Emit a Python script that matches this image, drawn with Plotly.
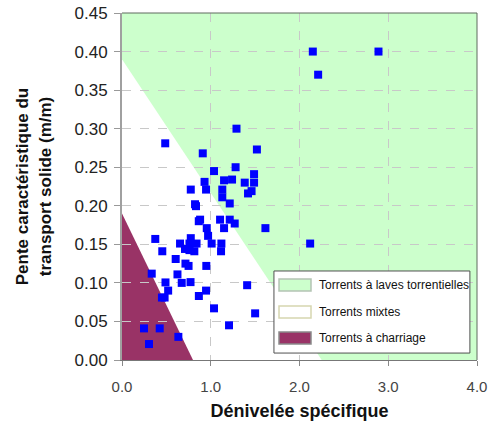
import plotly.graph_objects as go

# ---- data ----
denivelee = [2.15, 2.89, 2.21, 1.29, 0.487, 0.91, 1.52, 1.037, 1.28, 1.488,
             0.93, 1.15, 1.24, 1.383, 1.488, 0.775, 0.947, 1.13, 1.46, 1.42,
             1.13, 1.214, 0.823, 0.834, 0.88, 0.865, 1.105, 1.214, 1.27, 0.955,
             1.15, 1.616, 0.97, 0.375, 0.775, 0.654, 0.76, 0.84, 1.01, 1.12,
             2.12, 0.71, 0.76, 0.815, 0.454, 1.116, 0.605, 0.715, 0.75, 0.95,
             0.335, 0.625, 0.49, 0.673, 0.772, 0.52, 0.866, 0.947, 0.45, 0.48,
             1.037, 1.41, 1.50, 1.206, 0.248, 0.425, 0.635, 0.304]
pente = [0.400, 0.400, 0.370, 0.300, 0.281, 0.268, 0.273, 0.245, 0.250, 0.241,
         0.231, 0.233, 0.234, 0.230, 0.230, 0.221, 0.221, 0.221, 0.219, 0.216,
         0.211, 0.203, 0.202, 0.1995, 0.182, 0.180, 0.182, 0.182, 0.177, 0.171,
         0.171, 0.171, 0.161, 0.157, 0.158, 0.151, 0.151, 0.151, 0.151, 0.151,
         0.151, 0.144, 0.1425, 0.141, 0.141, 0.141, 0.131, 0.125, 0.122, 0.122,
         0.112, 0.111, 0.1006, 0.100, 0.101, 0.090, 0.083, 0.090, 0.081, 0.081,
         0.067, 0.097, 0.0605, 0.045, 0.041, 0.041, 0.030, 0.0207]

# region boundaries (data coordinates)
laves_x = [0, 0, 4, 4, 2.25]
laves_y = [0.39, 0.45, 0.45, 0, 0]
charriage_x = [0, 0, 0.8]
charriage_y = [0, 0.19, 0]

legend_labels = ["Torrents à laves torrentielles", "Torrents mixtes", "Torrents à charriage"]

x_tick_vals = [0, 1, 2, 3, 4]
x_tick_text = ["0.0", "1.0", "2.0", "3.0", "4.0"]
y_tick_vals = [0, 0.05, 0.10, 0.15, 0.20, 0.25, 0.30, 0.35, 0.40, 0.45]
y_tick_text = ["0.00", "0.05", "0.10", "0.15", "0.20", "0.25", "0.30", "0.35", "0.40", "0.45"]

GREEN = "#ccffcc"
PLUM = "#993366"
FONT = "Liberation Sans, Arial, sans-serif"


def poly_path(xs, ys):
    pts = " L ".join(f"{x},{y}" for x, y in zip(xs, ys))
    return "M " + pts + " Z"


fig = go.Figure()
fig.add_trace(go.Scatter(
    x=denivelee, y=pente, mode="markers", showlegend=False,
    marker=dict(symbol="square", size=8, color="#0000ff", line=dict(width=0)),
    hoverinfo="x+y",
))

shapes = [
    dict(type="path", path=poly_path(laves_x, laves_y), xref="x", yref="y",
         fillcolor=GREEN, line=dict(width=0), layer="below"),
    dict(type="path", path=poly_path(charriage_x, charriage_y), xref="x", yref="y",
         fillcolor=PLUM, line=dict(width=0), layer="below"),
    # top / right frame
    dict(type="line", xref="paper", yref="paper", x0=0, x1=1, y0=1, y1=1,
         line=dict(color="#5f6b5f", width=1), layer="above"),
    dict(type="line", xref="paper", yref="paper", x0=1, x1=1, y0=0, y1=1,
         line=dict(color="#5f6b5f", width=1), layer="above"),
    # legend box
    dict(type="rect", xref="paper", yref="paper", x0=0.428, x1=0.980, y0=0.020, y1=0.2565,
         fillcolor="white", line=dict(color="#505050", width=1), layer="above"),
]

swatch_fill = [GREEN, "white", PLUM]
swatch_line = ["#b4c4b4", "#d6d6b0", "#8a8a8a"]
row_y = [0.2161, 0.1383, 0.0634]
annotations = []
for lab, fc, lc, yc in zip(legend_labels, swatch_fill, swatch_line, row_y):
    shapes.append(dict(type="rect", xref="paper", yref="paper",
                       x0=0.4423, x1=0.5324, y0=yc - 0.0173, y1=yc + 0.0173,
                       fillcolor=fc, line=dict(color=lc, width=1.5), layer="above"))
    annotations.append(dict(text=lab, xref="paper", yref="paper", x=0.549, y=yc,
                            xanchor="left", yanchor="middle", showarrow=False,
                            font=dict(family=FONT, size=12, color="#111111")))

fig.update_layout(
    width=499, height=425,
    margin=dict(l=122, r=22, t=13, b=65, autoexpand=False),
    paper_bgcolor="white", plot_bgcolor="white",
    font=dict(family=FONT),
    shapes=shapes, annotations=annotations,
    showlegend=False,
    xaxis=dict(
        range=[0, 4], tickvals=x_tick_vals, ticktext=x_tick_text,
        tickfont=dict(family=FONT, size=15, color="#444444"),
        ticks="outside", ticklen=5, tickcolor="#888888", ticklabelstandoff=8,
        showline=True, linecolor="#777777", linewidth=1,
        showgrid=True, gridcolor="#c8c8c8", griddash="dash", gridwidth=1,
        zeroline=False,
        title=dict(text="Dénivelée spécifique", standoff=10,
                   font=dict(family=FONT, size=18, color="#111111", weight="bold")),
    ),
    yaxis=dict(
        range=[0, 0.45], tickvals=y_tick_vals, ticktext=y_tick_text,
        tickfont=dict(family=FONT, size=17, color="#222222"),
        ticks="outside", ticklen=6, tickcolor="#999999", ticklabelstandoff=3,
        showline=True, linecolor="#a0a0a0", linewidth=2,
        showgrid=True, gridcolor="#c8c8c8", griddash="dash", gridwidth=1,
        zeroline=False,
        title=dict(text="Pente caractéristique du<br>transport solide (m/m)", standoff=19,
                   font=dict(family=FONT, size=17, color="#111111", weight="bold")),
    ),
)

# remove the browser's default 8px body margin so the figure fills the window
fig.write_html("out.html", config={"displayModeBar": False},
               post_script="document.body.style.margin='0';")
